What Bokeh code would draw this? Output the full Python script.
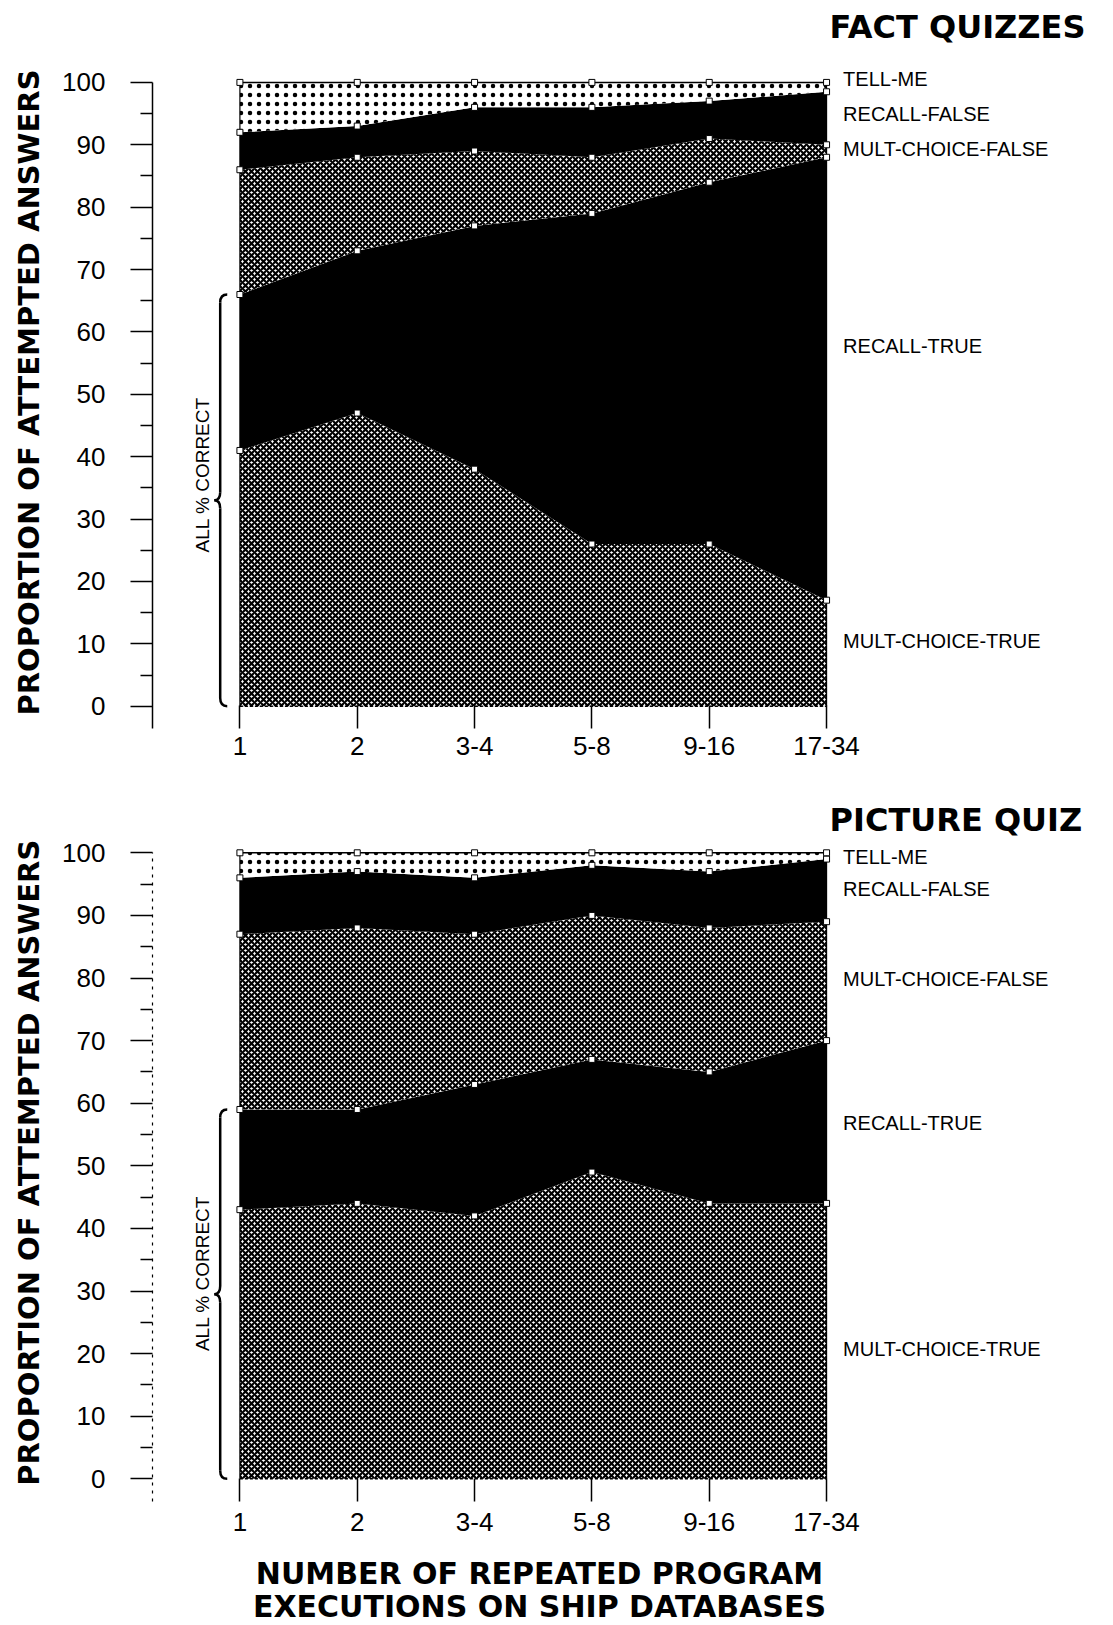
import numpy as np
from bokeh.plotting import figure
from bokeh.models import Range1d, LinearAxis, FixedTicker, Label
from bokeh.layouts import column, row
from bokeh.embed import file_html
from bokeh.resources import INLINE

# ---------------- data ----------------
categories = ["1", "2", "3-4", "5-8", "9-16", "17-34"]
layers = ["MULT-CHOICE-TRUE", "RECALL-TRUE", "MULT-CHOICE-FALSE", "RECALL-FALSE", "TELL-ME"]

fact_mc_true = [41, 47, 38, 26, 26, 17]
fact_recall_true = [25, 26, 39, 53, 58, 71]
fact_mc_false = [20, 15, 12, 9, 7, 2]
fact_recall_false = [6, 5, 7, 8, 6, 8.5]
fact_tell_me = [8, 7, 4, 4, 3, 1.5]

pic_mc_true = [43, 44, 42, 49, 44, 44]
pic_recall_true = [16, 15, 21, 18, 21, 26]
pic_mc_false = [28, 29, 24, 23, 23, 19]
pic_recall_false = [9, 9, 9, 8, 9, 10]
pic_tell_me = [4, 3, 4, 2, 3, 1]

y_ticks = [0, 10, 20, 30, 40, 50, 60, 70, 80, 90, 100]

# ---------------- styles / placement ----------------
FONT = "Liberation Sans"
TITLE_FONT = "DejaVu Sans"
CROSS = dict(fill_color="white", hatch_pattern="diagonal_cross", hatch_color="black",
             hatch_scale=6, hatch_weight=2.2)
SOLID = dict(fill_color="black")
DOTS = dict(fill_color="white", hatch_pattern="dot", hatch_color="black",
            hatch_scale=9, hatch_weight=1.0)
layer_styles = [CROSS, SOLID, CROSS, SOLID, DOTS]

fact_label_y = [10.5, 57.8, 89.4, 94.9, 100.5]
pic_label_y = [20.7, 56.9, 79.8, 94.2, 99.3]

SIDE_W = 56
FIG_W = 1054
X_START, X_END = -0.745, 7.42
LABEL_X = 5.141
TITLE_X = 5.026
BRACE_X = -0.168
BRACE_TEXT_X = -0.322


def blank(width, height, y_range=None):
    f = figure(width=width, height=height, output_backend="svg", toolbar_location=None,
               x_range=Range1d(0, width),
               y_range=y_range if y_range is not None else Range1d(0, height),
               min_border_left=0, min_border_right=0, min_border_top=0, min_border_bottom=0,
               x_axis_location=None, y_axis_location=None,
               background_fill_color="white", border_fill_color="white")
    f.outline_line_color = None
    f.grid.visible = False
    return f


def make_panel(series, title, title_y, label_ys, brace_text_y, height, mb_bottom,
               y_start, y_end, x_standoff, dashed_axis):
    p = figure(width=FIG_W, height=height, output_backend="svg", toolbar_location=None,
               x_range=Range1d(X_START, X_END), y_range=Range1d(y_start, y_end),
               min_border_left=96, min_border_right=0, min_border_top=0,
               min_border_bottom=mb_bottom, x_axis_location=None, y_axis_location=None,
               background_fill_color="white", border_fill_color="white")
    p.outline_line_color = None
    p.grid.visible = False

    xs = np.arange(len(categories))
    vals = np.array(series, dtype=float)
    cum = np.vstack([np.zeros(len(categories)), np.cumsum(vals, axis=0)])

    for i, st in enumerate(layer_styles):
        p.varea(x=xs, y1=cum[i], y2=cum[i + 1], **st)

    # outline of the stacked area
    p.line(x=xs, y=cum[-1], line_color="black", line_width=1.5)
    p.line(x=xs, y=cum[0], line_color="black", line_width=1.5, line_dash="3 2")
    p.segment(x0=[xs[0], xs[-1]], y0=[cum[0][0], cum[0][-1]],
              x1=[xs[0], xs[-1]], y1=[cum[-1][0], cum[-1][-1]],
              line_color="black", line_width=1.2)

    # data point markers on each boundary
    for k in range(1, cum.shape[0]):
        p.scatter(x=xs, y=cum[k], marker="square", size=6, fill_color="white",
                  line_color="black", line_width=1)

    # x axis (ticks rise from below the baseline up to it)
    xaxis = LinearAxis(ticker=FixedTicker(ticks=list(xs)),
                       major_label_overrides={int(i): c for i, c in zip(xs, categories)},
                       major_tick_in=23, major_tick_out=0, minor_tick_in=0, minor_tick_out=0,
                       major_tick_line_width=1.5, axis_line_color=None,
                       major_label_standoff=x_standoff,
                       major_label_text_font=FONT, major_label_text_font_size="26px",
                       major_label_text_color="black")
    p.add_layout(xaxis, "below")

    # y axis
    minor = [(a + b) / 2 for a, b in zip(y_ticks[:-1], y_ticks[1:])]
    yaxis = LinearAxis(ticker=FixedTicker(ticks=y_ticks, minor_ticks=minor),
                       bounds=(y_start, y_ticks[-1]),
                       major_tick_out=22, major_tick_in=0, minor_tick_out=12, minor_tick_in=0,
                       major_tick_line_width=1.3, minor_tick_line_width=1.3,
                       axis_line_width=1.5,
                       major_label_standoff=25,
                       major_label_text_font=FONT, major_label_text_font_size="26px",
                       major_label_text_color="black")
    if dashed_axis:
        yaxis.axis_line_dash = "3 5"
        yaxis.axis_line_width = 1.2
    p.add_layout(yaxis, "left")

    # brace "ALL % CORRECT"
    top = cum[2][0]
    mid = top / 2.0
    dx, tip, r = 0.06, 0.05, 1.3
    p.quadratic(x0=[BRACE_X + dx, BRACE_X, BRACE_X, BRACE_X],
                y0=[top, mid + r, mid - r, r],
                x1=[BRACE_X, BRACE_X - tip, BRACE_X - tip, BRACE_X + dx],
                y1=[top - r, mid, mid, 0],
                cx=[BRACE_X, BRACE_X, BRACE_X, BRACE_X],
                cy=[top, mid, mid, 0],
                line_color="black", line_width=2.5)
    p.segment(x0=[BRACE_X, BRACE_X], y0=[top - r, mid - r],
              x1=[BRACE_X, BRACE_X], y1=[mid + r, r],
              line_color="black", line_width=2.5)
    p.add_layout(Label(x=BRACE_TEXT_X, y=brace_text_y, text="ALL % CORRECT", angle=np.pi / 2,
                       text_align="center", text_baseline="middle", text_font=FONT,
                       text_font_size="19px", text_color="black"))

    # right-side layer labels
    for name, ly in zip(layers, label_ys):
        p.add_layout(Label(x=LABEL_X, y=ly, text=name, text_align="left",
                           text_baseline="middle", text_font=FONT, text_font_size="20px",
                           text_color="black"))

    # panel title
    p.add_layout(Label(x=TITLE_X, y=title_y, text=title, text_align="left",
                       text_baseline="middle", text_font=TITLE_FONT, text_font_size="32px",
                       text_font_style="bold", text_color="black"))
    return p


def ytitle_fig(main, height, center_y):
    # shares the panel's vertical scale, so the title is placed in the panel's units
    f = blank(SIDE_W, height, y_range=main.y_range)
    f.add_layout(Label(x=28, y=center_y, text="PROPORTION OF ATTEMPTED ANSWERS",
                       angle=np.pi / 2, text_align="center", text_baseline="middle",
                       text_font=TITLE_FONT, text_font_size="29px", text_font_style="bold",
                       text_color="black"))
    return f


fact_series = [fact_mc_true, fact_recall_true, fact_mc_false, fact_recall_false, fact_tell_me]
pic_series = [pic_mc_true, pic_recall_true, pic_mc_false, pic_recall_false, pic_tell_me]

H1 = 776
H2 = 771
p1 = make_panel(fact_series, "FACT QUIZZES", 108.96, fact_label_y, 37.1,
                height=H1, mb_bottom=48, y_start=-3.57, y_end=113.13,
                x_standoff=8, dashed_axis=False)
p2 = make_panel(pic_series, "PICTURE QUIZ", 105.3, pic_label_y, 32.8,
                height=H2, mb_bottom=46, y_start=-3.62, y_end=112.19,
                x_standoff=11, dashed_axis=True)

s1 = ytitle_fig(p1, H1, 50.3)
s2 = ytitle_fig(p2, H2, 50.5)

XT_H = 77
xt = blank(SIDE_W + FIG_W, XT_H)
xt.add_layout(Label(x=539, y=XT_H - 26, text="NUMBER OF REPEATED PROGRAM", text_align="center",
                    text_baseline="middle", text_font=TITLE_FONT, text_font_size="30px",
                    text_font_style="bold", text_color="black"))
xt.add_layout(Label(x=539, y=XT_H - 59, text="EXECUTIONS ON SHIP DATABASES", text_align="center",
                    text_baseline="middle", text_font=TITLE_FONT, text_font_size="30px",
                    text_font_style="bold", text_color="black"))

layout = column(row(s1, p1, spacing=0), row(s2, p2, spacing=0), xt, spacing=0)
open("out.html", "w").write(file_html(layout, INLINE))
